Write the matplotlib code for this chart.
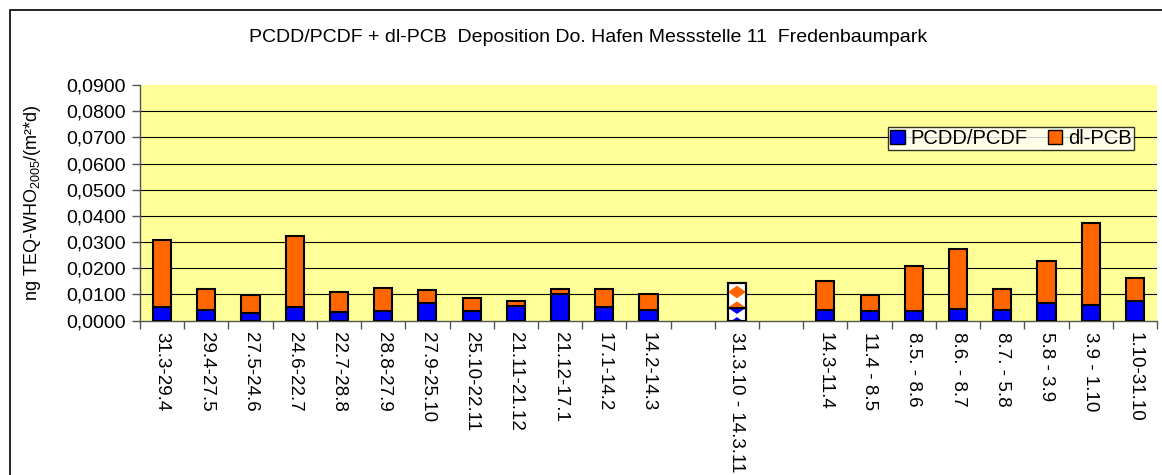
import matplotlib
matplotlib.use("Agg")
import matplotlib.pyplot as plt
from matplotlib.patches import Rectangle, Polygon, Patch
import numpy as np

plt.rcParams["font.family"] = ["Liberation Sans", "DejaVu Sans"]

# Messzeiträume (leere Einträge = Lücken in der Achse)
labels = ["31.3-29.4", "29.4-27.5", "27.5-24.6", "24.6-22.7", "22.7-28.8",
          "28.8-27.9", "27.9-25.10", "25.10-22.11", "21.11-21.12", "21.12-17.1",
          "17.1-14.2", "14.2-14.3", "", "31.3.10 - 14.3.11", "",
          "14.3-11.4", "11.4 - 8.5", "8.5. - 8.6", "8.6. - 8.7", "8.7. - 5.8",
          "5.8 - 3.9", "3.9 - 1.10", "1.10-31.10"]

# ng TEQ-WHO2005/(m²*d), None = kein Wert
pcdd = [0.0050, 0.0040, 0.0030, 0.0050, 0.0033, 0.0037, 0.0065, 0.0037, 0.0057,
        0.0102, 0.0051, 0.0041, None, 0.0049, None,
        0.0042, 0.0036, 0.0038, 0.0044, 0.0040, 0.0065, 0.0058, 0.0075]
total = [0.0309, 0.0119, 0.0098, 0.0322, 0.0110, 0.0124, 0.0115, 0.0086, 0.0076,
         0.0121, 0.0121, 0.0102, None, 0.0143, None,
         0.0150, 0.0096, 0.0209, 0.0275, 0.0121, 0.0227, 0.0373, 0.0162]
pcb = [None if t is None else t - p for t, p in zip(total, pcdd)]

# Jahresmittel-Balken (gemustert)
special = 13

blue = "#0000FF"
orange = "#FF6600"
yellow = "#FFFF99"

fig = plt.figure(figsize=(11.62, 4.75), dpi=100)
ax = fig.add_axes([140 / 1162, 1 - 320.5 / 475, 1017 / 1162, 235.5 / 475])
ax.set_facecolor(yellow)

# Rahmen um das ganze Diagramm
fig.patches.append(Rectangle((10 / 1162, -0.1), 1.2, 1.1 - 10 / 475,
                             transform=fig.transFigure, fill=False,
                             edgecolor="black", linewidth=1.2))

x = np.arange(len(labels))
w = 0.41
for i in range(len(labels)):
    if pcdd[i] is None:
        continue
    if i == special:
        b1 = ax.bar(x[i], pcdd[i], w, color="white", edgecolor="black", linewidth=1.5, zorder=3)[0]
        b2 = ax.bar(x[i], pcb[i], w, bottom=pcdd[i], color="white", edgecolor="black", linewidth=1.5, zorder=3)[0]
        # Rautenmuster
        hw, hh, per = w / 2, 0.0024, 0.006
        for bar, col, centers in [(b1, blue, [pcdd[i], pcdd[i] - per]),
                                  (b2, orange, [pcdd[i], pcdd[i] + per, pcdd[i] + 2 * per])]:
            for c in centers:
                d = Polygon([(x[i] - hw, c), (x[i], c + hh), (x[i] + hw, c), (x[i], c - hh)],
                            closed=True, facecolor=col, edgecolor="none", zorder=3.5)
                ax.add_patch(d)
                d.set_clip_path(bar)
            ax.add_patch(Rectangle(bar.get_xy(), bar.get_width(), bar.get_height(),
                                   fill=False, edgecolor="black", linewidth=1.5, zorder=4))
    else:
        ax.bar(x[i], pcdd[i], w, color=blue, edgecolor="black", linewidth=1.5, zorder=3)
        ax.bar(x[i], pcb[i], w, bottom=pcdd[i], color=orange, edgecolor="black", linewidth=1.5, zorder=3)

ax.set_xlim(-0.5, len(labels) - 0.5)
ax.set_ylim(0, 0.09)
yt = np.arange(0, 0.0901, 0.01)
ax.set_yticks(yt)
ax.set_yticklabels([f"{v:.4f}".replace(".", ",") for v in yt], fontsize=14)
for v in yt[1:-1]:
    ax.axhline(v, color="black", linewidth=0.8, zorder=1)

ax.set_xticks(x)
ax.set_xticklabels(labels, rotation=270, fontsize=13.5, va="top", ha="center")
ax.set_xticks(np.arange(-0.5, len(labels), 1), minor=True)
ax.tick_params(axis="x", which="major", length=0, pad=8)
ax.tick_params(axis="x", which="minor", length=6, width=1, color="#555555")
ax.tick_params(axis="y", length=6, width=1, color="#555555", pad=4)

for s in ["top", "right"]:
    ax.spines[s].set_visible(False)
for s in ["left", "bottom"]:
    ax.spines[s].set_color("#555555")
    ax.spines[s].set_linewidth(1)

ax.set_ylabel("ng TEQ-WHO$_{\\mathregular{2005}}$/(m²*d)", fontsize=13)
ax.yaxis.set_label_coords(-0.095, 0.5)

fig.text(588 / 1162, 1 - 38 / 475, "PCDD/PCDF + dl-PCB  Deposition Do. Hafen Messstelle 11  Fredenbaumpark",
         ha="center", va="center", fontsize=14)

handles = [Patch(facecolor=blue, edgecolor="black", label="PCDD/PCDF"),
           Patch(facecolor=orange, edgecolor="black", label="dl-PCB")]
leg = ax.legend(handles=handles, loc="upper right", bbox_to_anchor=(0.977, 0.821),
                ncol=2, fontsize=14.5, frameon=True, fancybox=False, borderaxespad=0,
                handlelength=0.7, handleheight=0.7, handletextpad=0.3, columnspacing=1.0,
                borderpad=0.1)
leg.get_frame().set_edgecolor("black")
leg.get_frame().set_linewidth(1)

fig.savefig("out.png", dpi=100)
